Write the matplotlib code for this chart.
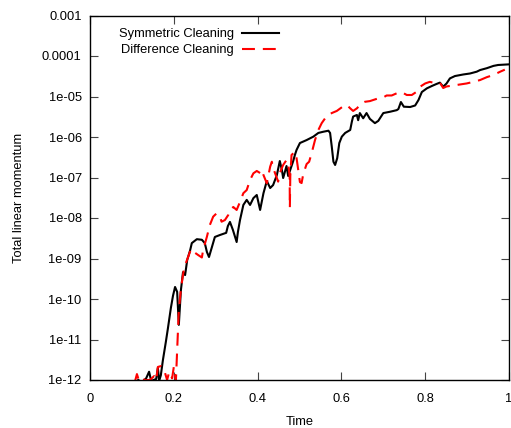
import matplotlib
matplotlib.use("Agg")
import matplotlib.pyplot as plt
from matplotlib.ticker import FixedLocator, FixedFormatter, NullLocator

plt.rcParams['font.family'] = ['Liberation Sans', 'DejaVu Sans']

# Symmetric Cleaning
sym_t = [0.115, 0.124, 0.134, 0.141, 0.146, 0.158, 0.162, 0.165, 0.169, 0.174,
         0.181, 0.186, 0.193, 0.198, 0.203, 0.208, 0.212, 0.217, 0.222, 0.227,
         0.232, 0.239, 0.243, 0.255, 0.267, 0.274, 0.279, 0.284, 0.291, 0.298,
         0.310, 0.325, 0.329, 0.334, 0.341, 0.350, 0.353, 0.358, 0.366, 0.374,
         0.382, 0.390, 0.398, 0.406, 0.414, 0.422, 0.430, 0.437, 0.446, 0.453,
         0.458, 0.461, 0.469, 0.473, 0.481, 0.485, 0.489, 0.493, 0.501, 0.517,
         0.533, 0.545, 0.557, 0.569, 0.573, 0.577, 0.581, 0.585, 0.590, 0.595,
         0.601, 0.609, 0.621, 0.625, 0.628, 0.637, 0.640, 0.644, 0.652, 0.660,
         0.668, 0.680, 0.688, 0.700, 0.716, 0.732, 0.736, 0.742, 0.749, 0.764,
         0.776, 0.784, 0.792, 0.804, 0.816, 0.827, 0.835, 0.843, 0.851, 0.859,
         0.871, 0.891, 0.907, 0.923, 0.931, 0.947, 0.963, 0.974, 0.998]
sym_v = [1.0e-12, 8.9e-13, 1.1e-12, 1.6e-12, 9.5e-13, 1.06e-12, 2.0e-12, 9.5e-13, 1.3e-12, 3.1e-12,
         8.7e-12, 1.9e-11, 6.0e-11, 1.19e-10, 1.98e-10, 1.5e-10, 2.3e-11, 1.67e-10, 4.6e-10, 3.9e-10,
         9.2e-10, 1.6e-9, 2.4e-9, 3.0e-9, 2.9e-9, 2.4e-9, 1.45e-9, 1.09e-9, 1.92e-9, 3.4e-9,
         3.8e-9, 4.3e-9, 6.3e-9, 8.0e-9, 5.1e-9, 2.55e-9, 4.5e-9, 8.9e-9, 2.1e-8, 2.8e-8,
         2.1e-8, 3.1e-8, 3.7e-8, 1.58e-8, 4.1e-8, 8.2e-8, 5.5e-8, 6.5e-8, 1.15e-7, 2.55e-7,
         1.53e-7, 9.7e-8, 1.92e-7, 1.09e-7, 1.92e-7, 2.55e-7, 3.6e-7, 4.8e-7, 7.1e-7, 8.4e-7,
         1.02e-6, 1.26e-6, 1.35e-6, 1.43e-6, 1.26e-6, 5.8e-7, 2.45e-7, 2.04e-7, 3.0e-7, 7.1e-7,
         1.02e-6, 1.26e-6, 1.49e-6, 2.4e-6, 3.2e-6, 3.5e-6, 2.6e-6, 3.9e-6, 2.9e-6, 3.9e-6,
         2.8e-6, 2.2e-6, 2.5e-6, 3.9e-6, 4.2e-6, 4.6e-6, 4.9e-6, 7.3e-6, 5.6e-6, 5.5e-6,
         6.0e-6, 8.2e-6, 1.29e-5, 1.59e-5, 1.82e-5, 2.04e-5, 2.2e-5, 1.75e-5, 2.1e-5, 2.8e-5,
         3.2e-5, 3.5e-5, 3.7e-5, 4.1e-5, 4.5e-5, 5.0e-5, 5.7e-5, 6.0e-5, 6.2e-5]

# Difference Cleaning
diff_t = [0.107, 0.112, 0.117, 0.124, 0.131, 0.143, 0.153, 0.158, 0.162, 0.169,
          0.177, 0.184, 0.189, 0.196, 0.200, 0.205, 0.209, 0.212, 0.216, 0.220,
          0.223, 0.227, 0.235, 0.241, 0.247, 0.258, 0.267, 0.270, 0.279, 0.286,
          0.294, 0.302, 0.310, 0.314, 0.322, 0.330, 0.334, 0.342, 0.350, 0.358,
          0.366, 0.374, 0.382, 0.390, 0.398, 0.406, 0.410, 0.414, 0.422, 0.430,
          0.434, 0.437, 0.446, 0.449, 0.453, 0.461, 0.469, 0.473, 0.4765, 0.477,
          0.478, 0.481, 0.489, 0.493, 0.497, 0.501, 0.505, 0.509, 0.517, 0.523,
          0.529, 0.537, 0.545, 0.553, 0.565, 0.577, 0.589, 0.605, 0.613, 0.621,
          0.628, 0.637, 0.648, 0.656, 0.668, 0.676, 0.688, 0.700, 0.708, 0.720,
          0.732, 0.744, 0.756, 0.768, 0.780, 0.788, 0.800, 0.811, 0.823, 0.835,
          0.843, 0.851, 0.867, 0.883, 0.899, 0.915, 0.931, 0.947, 0.963, 0.979,
          0.990]
diff_v = [8.9e-13, 1.4e-12, 9.5e-13, 1.1e-12, 1.0e-12, 1.0e-12, 1.25e-12, 1.0e-12, 2.1e-12, 2.2e-12,
          1.77e-12, 1.0e-12, 1.58e-12, 1.1e-12, 2.1e-12, 9.5e-13, 9.7e-12, 5.3e-11, 1.4e-10, 2.9e-10,
          4.6e-10, 6.9e-10, 1.15e-9, 1.72e-9, 1.47e-9, 1.22e-9, 1.06e-9, 1.62e-9, 3.45e-9, 6.7e-9,
          1.08e-8, 1.3e-8, 1.08e-8, 8.1e-9, 8.9e-9, 1.19e-8, 1.58e-8, 1.87e-8, 1.58e-8, 2.5e-8,
          4.1e-8, 4.9e-8, 8.7e-8, 1.27e-7, 1.45e-7, 1.29e-7, 1.53e-7, 1.15e-7, 7.2e-8, 1.85e-7,
          2.45e-7, 1.72e-7, 9.7e-8, 7.9e-8, 1.29e-7, 2.04e-7, 2.7e-7, 2.3e-7, 1.05e-7, 1.8e-8,
          1.09e-7, 3.6e-7, 4.3e-7, 3.0e-7, 1.53e-7, 7.7e-8, 7.3e-8, 1.22e-7, 2.15e-7, 2.45e-7,
          4.0e-7, 8.4e-7, 1.49e-6, 2.2e-6, 3.3e-6, 3.9e-6, 4.4e-6, 5.8e-6, 6.2e-6, 5.1e-6,
          4.4e-6, 5.1e-6, 6.8e-6, 7.4e-6, 7.7e-6, 8.2e-6, 9.0e-6, 9.5e-6, 1.06e-5, 1.06e-5,
          1.2e-5, 1.28e-5, 1.09e-5, 1.09e-5, 1.32e-5, 1.75e-5, 2.1e-5, 2.3e-5, 2.15e-5, 2.2e-5,
          1.62e-5, 1.77e-5, 1.87e-5, 1.98e-5, 2.1e-5, 2.3e-5, 2.55e-5, 3.0e-5, 3.4e-5, 4.1e-5,
          4.6e-5]

x_ticks = [0, 0.2, 0.4, 0.6, 0.8, 1]
x_tick_labels = ['0', '0.2', '0.4', '0.6', '0.8', '1']
y_ticks = [1e-12, 1e-11, 1e-10, 1e-9, 1e-8, 1e-7, 1e-6, 1e-5, 1e-4, 1e-3]
y_tick_labels = ['1e-12', '1e-11', '1e-10', '1e-09', '1e-08', '1e-07',
                 '1e-06', '1e-05', '0.0001', '0.001']

fig = plt.figure(figsize=(5.11, 4.28), dpi=100)
ax = fig.add_axes([90/511, 1 - 380/428, 419/511, (380 - 15.5)/428])

ax.plot(sym_t, sym_v, color='black', lw=1.5, label='Symmetric Cleaning')
ax.plot(diff_t, diff_v, color='#ff0000', lw=1.5, dashes=(6.2, 3.8),
        label='Difference Cleaning')

ax.set_yscale('log')
ax.set_xlim(0, 1)
ax.set_ylim(1e-12, 1e-3)

ax.xaxis.set_major_locator(FixedLocator(x_ticks))
ax.xaxis.set_major_formatter(FixedFormatter(x_tick_labels))
ax.yaxis.set_major_locator(FixedLocator(y_ticks))
ax.yaxis.set_major_formatter(FixedFormatter(y_tick_labels))
ax.yaxis.set_minor_locator(NullLocator())
ax.xaxis.set_minor_locator(NullLocator())

ax.tick_params(which='major', direction='in', length=5.5, width=0.8,
               top=True, right=True, labelsize=9.3, color='#444444')
ax.tick_params(axis='y', pad=6)
ax.tick_params(axis='x', pad=9)
for s in ax.spines.values():
    s.set_linewidth(1.0)

ax.set_xlabel('Time', fontsize=9.3, labelpad=8)
ax.set_ylabel('Total linear momentum', fontsize=9.3, labelpad=12)

leg = ax.legend(loc='upper left', bbox_to_anchor=(0.069, 0.965), frameon=False,
                markerfirst=False, fontsize=9.3, handlelength=2.9,
                handletextpad=0.6, labelspacing=0.3, borderpad=0, borderaxespad=0)

fig.savefig('out.png', dpi=100)
